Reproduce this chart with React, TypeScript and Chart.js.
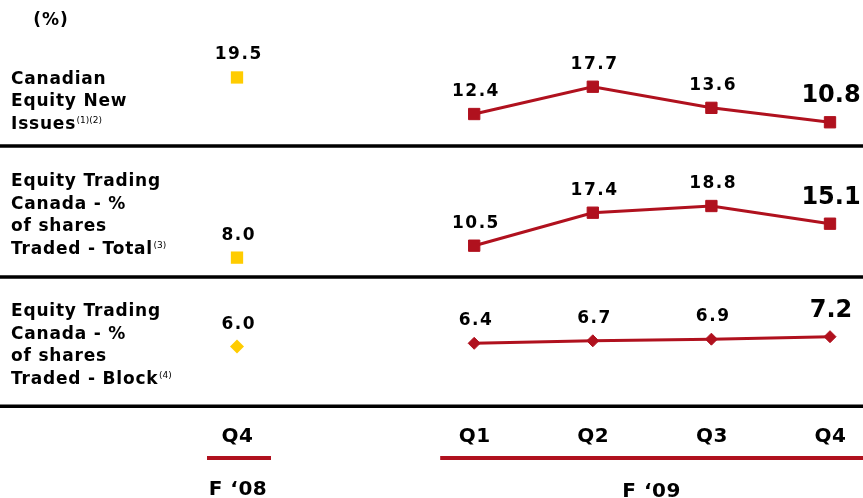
import React, { useEffect, useRef } from 'react';
import { Chart, registerables } from 'chart.js';

Chart.register(...registerables);

// Quarter slots along the x axis (blank slot separates the two fiscal years)
const quarters = ['Q4', '', 'Q1', 'Q2', 'Q3', 'Q4'];
const fiscalYears = ['F ‘08', 'F ‘09'];

// Canadian Equity New Issues (%)
const newIssuesF08 = [19.5, null, null, null, null, null];
const newIssuesF09 = [null, null, 12.4, 17.7, 13.6, 10.8];

// Equity Trading Canada - % of shares traded - Total
const tradingTotalF08 = [8.0, null, null, null, null, null];
const tradingTotalF09 = [null, null, 10.5, 17.4, 18.8, 15.1];

// Equity Trading Canada - % of shares traded - Block
const tradingBlockF08 = [6.0, null, null, null, null, null];
const tradingBlockF09 = [null, null, 6.4, 6.7, 6.9, 7.2];

const rowLabels = [
  ['Canadian', 'Equity New', 'Issues'],
  ['Equity Trading', 'Canada - %', 'of shares', 'Traded - Total'],
  ['Equity Trading', 'Canada - %', 'of shares', 'Traded - Block'],
];
const rowNotes = ['(1)(2)', '(3)', '(4)'];

const RED = '#B0111E';
const GOLD = '#FFCC00';
const FONT = '"DejaVu Sans", Verdana, sans-serif';

const W = 863;
const H = 498;

const textPlugin = {
  id: 'panelText',
  afterDraw(chart: any) {
    const ctx: CanvasRenderingContext2D = chart.ctx;
    const xs = chart.scales.x;
    ctx.save();

    // panel separators
    ctx.strokeStyle = '#000';
    ctx.lineWidth = 3.5;
    [146, 277, 406.3].forEach((y) => {
      ctx.beginPath();
      ctx.moveTo(0, y);
      ctx.lineTo(W, y);
      ctx.stroke();
    });

    ctx.fillStyle = '#000';
    ctx.textBaseline = 'alphabetic';

    // unit
    ctx.font = `bold 17px ${FONT}`;
    (ctx as any).letterSpacing = '1px';
    ctx.textAlign = 'center';
    ctx.fillText('(%)', 51, 25);

    // row labels with footnote markers
    const firstBaselines = [83.5, 186, 316];
    const lineH = 22.5;
    rowLabels.forEach((lines, r) => {
      lines.forEach((line, i) => {
        const y = firstBaselines[r] + i * lineH;
        ctx.textAlign = 'left';
        ctx.font = `bold 17px ${FONT}`;
        (ctx as any).letterSpacing = '0.8px';
        ctx.fillText(line, 11, y);
        if (i === lines.length - 1) {
          const w = ctx.measureText(line).width;
          ctx.font = `9px ${FONT}`;
          (ctx as any).letterSpacing = '0px';
          ctx.fillText(rowNotes[r], 11 + w + 0.5, y - 6);
        }
      });
    });

    // value labels above each marker
    chart.data.datasets.forEach((ds: any, di: number) => {
      const meta = chart.getDatasetMeta(di);
      const last = ds.data.length - 1;
      ds.data.forEach((v: number | null, i: number) => {
        if (v === null || v === undefined) return;
        const pt = meta.data[i];
        const big = ds.isF09 && i === last;
        const text = v.toFixed(1);
        ctx.textAlign = 'left';
        if (big) {
          ctx.font = `bold 24px ${FONT}`;
          (ctx as any).letterSpacing = '0px';
        } else {
          ctx.font = `bold 17px ${FONT}`;
          (ctx as any).letterSpacing = '1.5px';
        }
        const ls = big ? 0 : 1.5;
        const w = ctx.measureText(text).width - ls;
        ctx.fillText(text, pt.x - w / 2 + 1, pt.y - (big ? 20 : 18));
      });
    });

    // quarter labels
    ctx.font = `bold 20px ${FONT}`;
    (ctx as any).letterSpacing = '0.5px';
    ctx.textAlign = 'center';
    quarters.forEach((q, i) => {
      if (!q) return;
      ctx.fillText(q, xs.getPixelForValue(i) + 0.5, 441.5);
    });

    // fiscal-year brackets
    const x08 = xs.getPixelForValue(0);
    const x09 = xs.getPixelForValue(2);
    ctx.strokeStyle = RED;
    ctx.lineWidth = 4;
    ctx.beginPath();
    ctx.moveTo(x08 - 30, 458);
    ctx.lineTo(x08 + 34, 458);
    ctx.moveTo(x09 - 34, 458);
    ctx.lineTo(W, 458);
    ctx.stroke();

    ctx.fillStyle = '#000';
    ctx.font = `bold 20px ${FONT}`;
    ctx.fillText(fiscalYears[0], x08 + 1, 495);
    ctx.fillText(fiscalYears[1], (x09 - 34 + W) / 2, 496.5);

    ctx.restore();
  },
};

function redLine(data: (number | null)[], yAxisID: string, style: string, radius: number) {
  return {
    data,
    yAxisID,
    isF09: true,
    borderColor: RED,
    backgroundColor: RED,
    borderWidth: 3,
    pointStyle: style,
    pointRadius: radius,
    pointBorderWidth: 1,
    pointBorderColor: RED,
    pointBackgroundColor: RED,
    spanGaps: false,
    clip: false,
  };
}

function goldPoint(data: (number | null)[], yAxisID: string, style: string, radius: number) {
  return {
    data,
    yAxisID,
    isF09: false,
    showLine: false,
    borderColor: GOLD,
    backgroundColor: GOLD,
    pointStyle: style,
    pointRadius: radius,
    pointBorderWidth: 0,
    pointBackgroundColor: GOLD,
    clip: false,
  };
}

export default function App() {
  const ref = useRef<HTMLCanvasElement | null>(null);

  useEffect(() => {
    if (!ref.current) return;
    const chart = new Chart(ref.current, {
      type: 'line',
      data: {
        labels: quarters,
        datasets: [
          redLine(newIssuesF09, 'y1', 'rect', 8),
          goldPoint(newIssuesF08, 'y1', 'rect', 8.7),
          redLine(tradingTotalF09, 'y2', 'rect', 8),
          goldPoint(tradingTotalF08, 'y2', 'rect', 8.7),
          redLine(tradingBlockF09, 'y3', 'rectRot', 6),
          goldPoint(tradingBlockF08, 'y3', 'rectRot', 7),
        ] as any,
      },
      options: {
        animation: false,
        responsive: false,
        devicePixelRatio: 1,
        layout: { autoPadding: false, padding: { left: 237, right: 33, top: 0, bottom: 92 } },
        plugins: {
          legend: { display: false },
          tooltip: { enabled: false },
        },
        scales: {
          x: { type: 'category', display: false, offset: false },
          y1: { type: 'linear', display: false, min: -44.29, max: 34.54 },
          y2: { type: 'linear', display: false, min: -23.04, max: 61.9 },
          y3: { type: 'linear', display: false, min: -1.2, max: 48.01 },
        },
      } as any,
      plugins: [textPlugin],
    });
    return () => chart.destroy();
  }, []);

  return (
    <div style={{ position: 'absolute', left: 0, top: 0, width: W, height: H, background: '#fff' }}>
      <canvas ref={ref} width={W} height={H} style={{ display: 'block' }} />
    </div>
  );
}
